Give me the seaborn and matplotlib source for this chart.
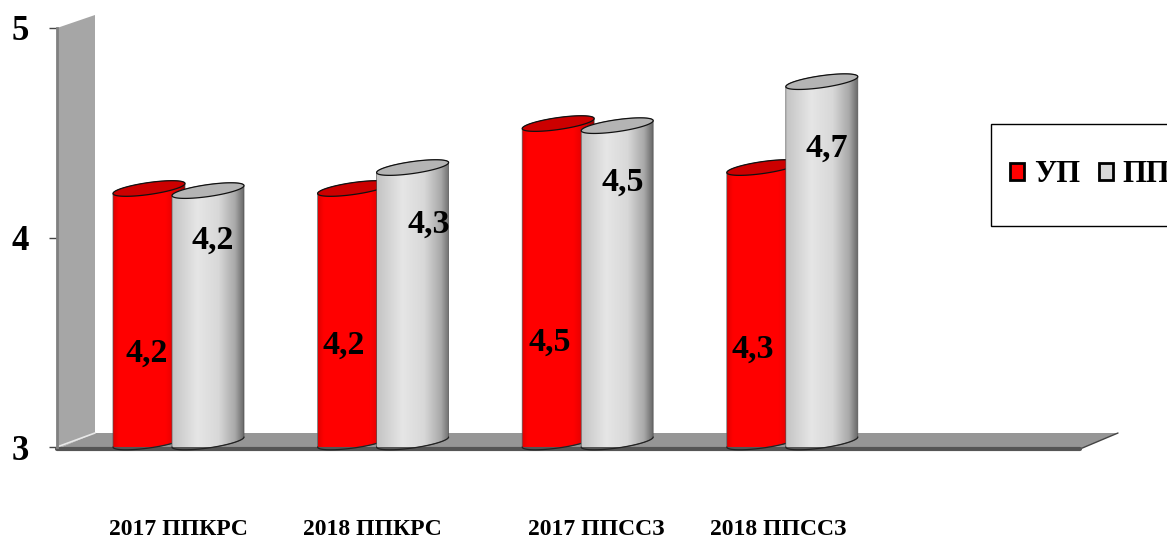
import numpy as np
import pandas as pd
import matplotlib
matplotlib.use('Agg')
import matplotlib.pyplot as plt
import seaborn as sns
from matplotlib.colors import LinearSegmentedColormap
from matplotlib.patches import Patch, Polygon, Rectangle
from matplotlib.transforms import ScaledTranslation

# Values (labels show one decimal)
categories = ['2017 ППКРС', '2018 ППКРС', '2017 ППССЗ', '2018 ППССЗ']
series_names = ['УП', 'ПП']
up_values = [4.21, 4.21, 4.52, 4.31]
pp_values = [4.20, 4.31, 4.51, 4.72]
y_ticks = [3, 4, 5]

W, H = 1167, 538
AX_L, AX_R, AX_T, AX_B = 57, 1080, 28, 447
GROUP_PX = (AX_R - AX_L) / 5
UNIT_PX = (AX_B - AX_T) / 2
FIRST_TICK_PX = 172

RED_CMAP = LinearSegmentedColormap.from_list('r', [(0, '#e00000'), (0.08, '#ff0000'), (0.72, '#ff0000'), (0.9, '#d80000'), (1, '#900000')])
GRAY_CMAP = LinearSegmentedColormap.from_list('g', [(0, '#c4c4c4'), (0.35, '#e6e6e6'), (0.65, '#d8d8d8'), (0.88, '#a8a8a8'), (1, '#686868')])

sns.set_theme(style='white')
plt.rcParams['font.family'] = ['Liberation Serif', 'DejaVu Serif']
plt.rcParams['font.weight'] = 'bold'

df = pd.DataFrame({
    'cat': categories * 2,
    'series': [series_names[0]] * 4 + [series_names[1]] * 4,
    'value': up_values + pp_values,
})

fig = plt.figure(figsize=(W / 100, H / 100), dpi=100, facecolor='white')
ax = fig.add_axes([AX_L / W, 1 - AX_B / H, (AX_R - AX_L) / W, (AX_B - AX_T) / H])

sns.barplot(data=df, x='cat', y='value', hue='series', order=categories + [' '],
            hue_order=series_names, palette=['#ff0000', '#d9d9d9'],
            width=2 * 59 / GROUP_PX, legend=False, ax=ax)
bars = list(ax.patches)

x_left = -0.5 - (FIRST_TICK_PX - GROUP_PX / 2 - AX_L) / GROUP_PX
xlim = (x_left, x_left + 5)
ylim = (3, 5)


def px_x(px):
    return xlim[0] + (px - AX_L) / GROUP_PX


def px_y(py):
    return 3 + (AX_B - py) / UNIT_PX


# back wall and floor
wall = [(57, 28), (95, 15), (95, 433), (57, 449)]
floor = [(57, 449), (1080, 449), (1118, 433), (95, 433)]
ax.add_patch(Polygon([(px_x(a), px_y(b)) for a, b in wall], fc='#a6a6a6', ec='none', clip_on=False, zorder=1))
ax.add_patch(Polygon([(px_x(a), px_y(b)) for a, b in floor], fc='#969696', ec='none', clip_on=False, zorder=1.1))
ax.plot([px_x(95), px_x(57)], [px_y(433), px_y(447)], color='#e8e8e8', lw=1.2, clip_on=False, zorder=1.2)
ax.plot([px_x(1080), px_x(1118)], [px_y(449), px_y(433)], color='#444444', lw=1, clip_on=False, zorder=1.2)
ax.plot([px_x(57), px_x(1080)], [px_y(448.5), px_y(448.5)], color='#555555', lw=3, clip_on=False, zorder=1.2)

# cylinders on top of the seaborn bars
cyl_w = 72 / GROUP_PX
half_w = cyl_w / 2
tilt = 5 / UNIT_PX
minor = 6 / UNIT_PX
t_front = np.linspace(np.pi, 2 * np.pi, 40)
t_back = np.linspace(0, np.pi, 40)
t_all = np.linspace(0, 2 * np.pi, 80)
n_up = len(up_values)

for i, bar in enumerate(bars):
    bar.set_visible(False)
    is_red = i < n_up
    z = (3 if is_red else 5) + 0.01 * i
    cx = bar.get_x() + half_w
    top = bar.get_height() + tilt
    base = 3 + tilt

    def rim(t, cy):
        return cx + half_w * np.cos(t), cy + tilt * np.cos(t) + minor * np.sin(t)

    bx, by = rim(t_front, base)
    tx, ty = rim(t_back, top)
    body = Polygon(np.column_stack([np.r_[bx, tx], np.r_[by, ty]]), fc='none',
                   ec='#555555', lw=0.5, zorder=z + 0.002)
    ax.add_patch(body)
    grad = np.linspace(0, 1, 256).reshape(1, -1)
    im = ax.imshow(grad, cmap=RED_CMAP if is_red else GRAY_CMAP, aspect='auto',
                   extent=(cx - half_w, cx + half_w, 2.9, top + 0.1), zorder=z + 0.001)
    im.set_clip_path(body)
    ax.plot(bx, by, color='#222222', lw=0.9, zorder=z + 0.002, clip_on=False)

    capx, capy = rim(t_all, top)
    ax.add_patch(Polygon(np.column_stack([capx, capy]), fc='#cc0000' if is_red else '#b4b4b4',
                         ec='#111111', lw=0.9, zorder=z + 0.003))

ax.set_xlim(xlim)
ax.set_ylim(ylim)

# value labels
up_label_px = [(147, 353), (344, 345), (550, 342), (753, 349)]
pp_label_px = [(213, 240), (429, 224), (623, 182), (827, 148)]
for vals, pos in [(up_values, up_label_px), (pp_values, pp_label_px)]:
    for v, (a, b) in zip(vals, pos):
        ax.text(px_x(a), px_y(b), f'{v:.1f}'.replace('.', ','), ha='center', va='center',
                fontsize=24.5, fontweight='bold', color='black', zorder=10, clip_on=False)

# axes
sns.despine(ax=ax, right=True, top=True, bottom=True)
ax.spines['left'].set_color('#808080')
ax.spines['left'].set_linewidth(2)
ax.set_xlabel('')
ax.set_ylabel('')
ax.set_yticks(y_ticks)
ax.set_yticklabels([str(v) for v in y_ticks], fontsize=25, fontweight='bold', color='black')
ax.tick_params(axis='y', length=6, width=1, color='#444444', pad=14, left=True)
ax.set_xticks(range(5))
ax.set_xticklabels(categories + [''], fontsize=17, fontweight='bold', color='black')
ax.tick_params(axis='x', length=0, pad=52)
label_shift_px = [6, -4, 15, -8, 0]
for lab, dx in zip(ax.get_xticklabels(), label_shift_px):
    lab.set_transform(lab.get_transform() + ScaledTranslation(dx / 100, 0, fig.dpi_scale_trans))

# legend runs off the right edge like the reference
ax.add_patch(Rectangle((991 / W, 1 - 226 / H), 190 / W, 102 / H, transform=fig.transFigure,
                       fc='white', ec='black', lw=1, zorder=19, clip_on=False))
handles = [Patch(fc='#ff0000', ec='black', lw=2), Patch(fc='#d9d9d9', ec='black', lw=2)]
leg = ax.legend(handles, series_names, ncol=2, loc='center left',
                bbox_to_anchor=(1010 / W, 1 - 175 / H), bbox_transform=fig.transFigure,
                frameon=False, handlelength=0.46, handleheight=0.46, handletextpad=0.33,
                columnspacing=0.6, borderpad=0, borderaxespad=0, labelcolor='black',
                prop={'family': 'Liberation Serif', 'weight': 'bold', 'size': 22})
leg.set_zorder(20)

fig.savefig('out.png', dpi=100, facecolor='white')
